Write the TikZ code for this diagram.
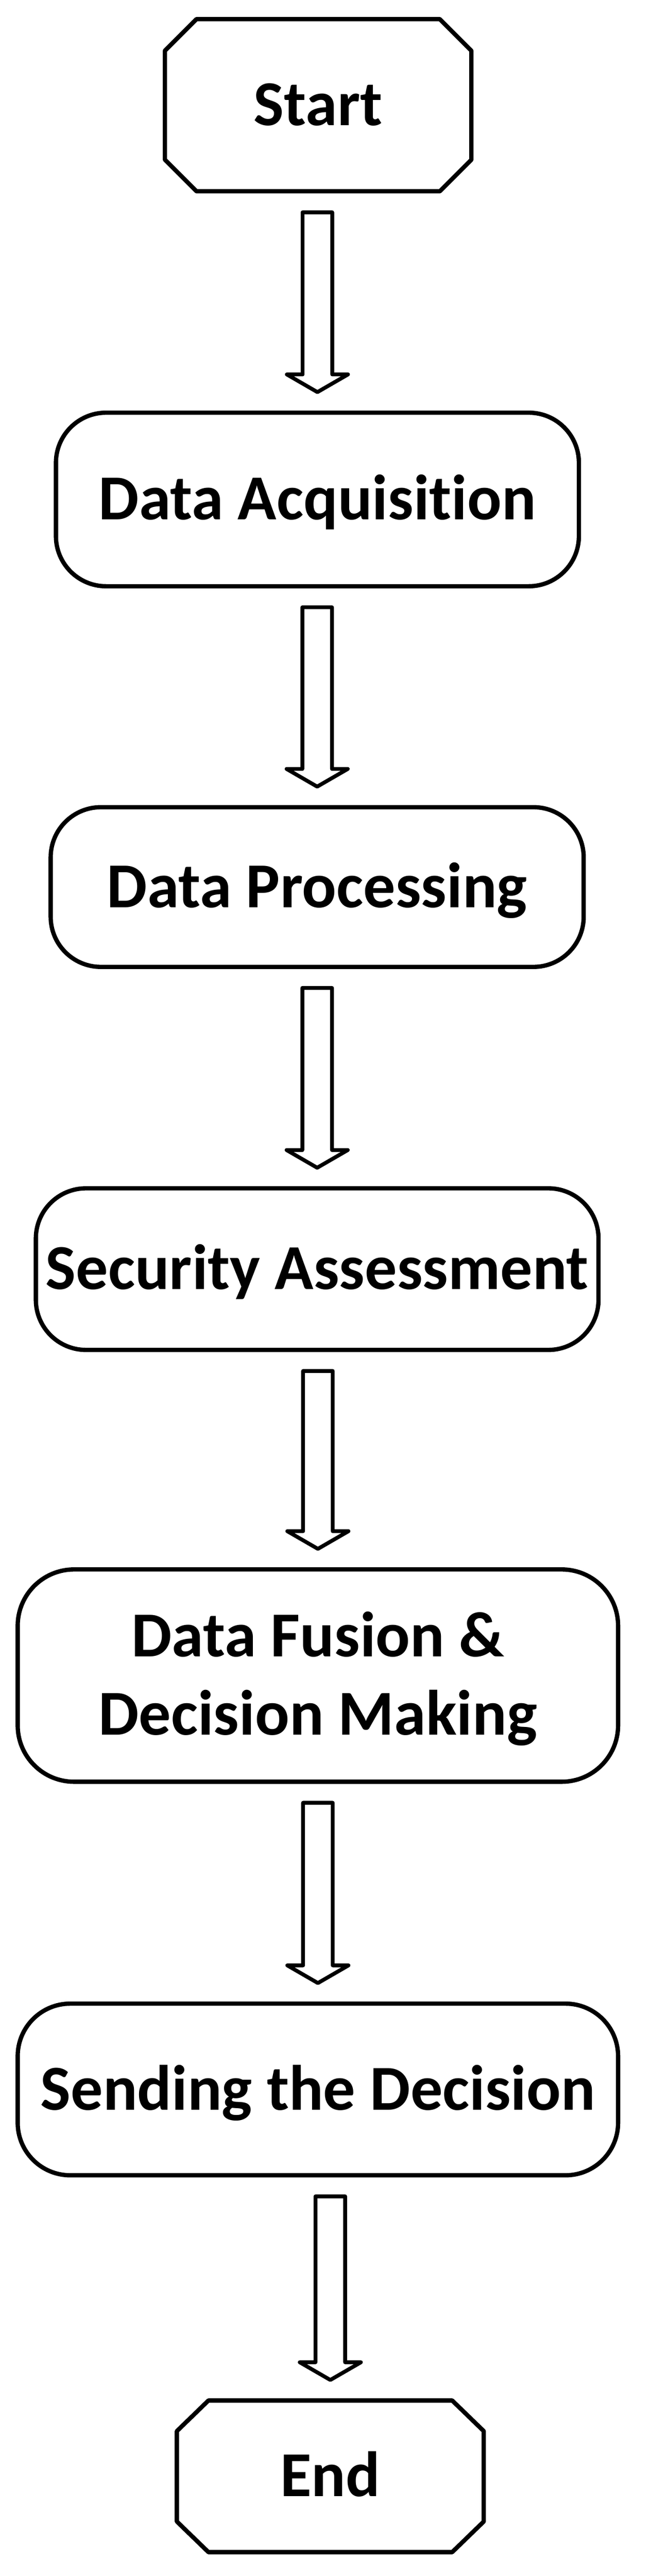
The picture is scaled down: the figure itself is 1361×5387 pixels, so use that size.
\documentclass[tikz,border=0pt]{standalone}
\usepackage{fontspec}
\setmainfont{Carlito}[Ligatures=CommonOff]
\usetikzlibrary{calc}
\newcommand\blockarrow[2]{%
  \draw[arrowline] let \p1=(#1.south), \p2=(#2.north) in
    (\x2-31pt,\y1-44pt) -- (\x2-31pt,\y2+80pt) -- (\x2-64pt,\y2+80pt) --
    (\x2,\y2+43pt) -- (\x2+64pt,\y2+80pt) -- (\x2+31pt,\y2+80pt) --
    (\x2+31pt,\y1-44pt) -- cycle;}
\begin{document}
\begin{tikzpicture}[x=1pt,y=-1pt,
  boxline/.style={draw=black, line width=9pt, line join=round},
  lbl/.style={font=\fontsize{134}{164}\selectfont\bfseries, align=center,
    text height=85pt, text depth=0pt, inner sep=0pt, outer sep=0pt},
  roundbox/.style={lbl, boxline, rectangle, rounded corners=105pt},
  octbox/.style={lbl, rectangle},
  arrowline/.style={draw=black, line width=8pt, line join=round, fill=white}]
\useasboundingbox (0,0) rectangle (1361,5387);
\fill[white] (0,0) rectangle (1361,5387);

% Start octagon
\node[octbox, minimum width=641pt, minimum height=360pt] (start) at (665.5,220) {Start};
\draw[boxline] ([xshift=66pt]start.north west) -- ([xshift=-66pt]start.north east)
  -- ([yshift=-66pt]start.north east) -- ([yshift=66pt]start.south east)
  -- ([xshift=-66pt]start.south east) -- ([xshift=66pt]start.south west)
  -- ([yshift=66pt]start.south west) -- ([yshift=-66pt]start.north west) -- cycle;

\node[roundbox, minimum width=1094pt, minimum height=363pt] (acq) at (664,1044.5) {Data Acquisition};
\node[roundbox, minimum width=1115pt, minimum height=334pt] (proc) at (663.5,1855) {Data Processing};
\node[roundbox, minimum width=1177pt, minimum height=338pt] (sec) at (663.5,2654) {Security Assessment};
\node[roundbox, rounded corners=118pt, minimum width=1256pt, minimum height=444pt, text height=249pt, text depth=0pt] (fus) at (665,3504) {Data Fusion \&\\Decision Making};
\node[roundbox, rounded corners=110pt, minimum width=1256pt, minimum height=359pt] (send) at (665,4369.5) {Sending the Decision};

% End octagon
\node[octbox, minimum width=642pt, minimum height=317pt] (end) at (691,5178.5) {End};
\draw[boxline] ([xshift=66pt]end.north west) -- ([xshift=-66pt]end.north east)
  -- ([yshift=-64pt]end.north east) -- ([yshift=64pt]end.south east)
  -- ([xshift=-66pt]end.south east) -- ([xshift=66pt]end.south west)
  -- ([yshift=64pt]end.south west) -- ([yshift=-64pt]end.north west) -- cycle;

\blockarrow{start}{acq}
\blockarrow{acq}{proc}
\blockarrow{proc}{sec}
\blockarrow{sec}{fus}
\blockarrow{fus}{send}
\blockarrow{send}{end}
\end{tikzpicture}
\end{document}
